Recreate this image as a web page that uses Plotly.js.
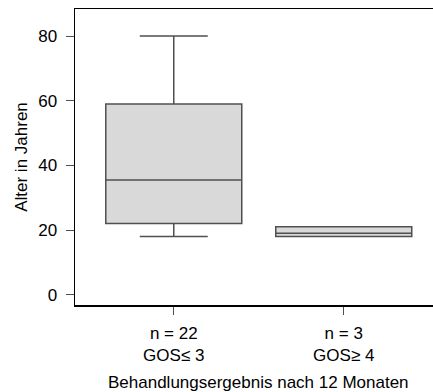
<!DOCTYPE html>
<html>
<head>
<meta charset="utf-8">
<script src="https://cdn.plot.ly/plotly-3.0.1.min.js"></script>
<style>html,body{margin:0;padding:0;background:#fff;}#chart{width:433px;height:392px;}</style>
</head>
<body>
<div id="chart"></div>
<script>
const positions = [1, 2];
const tickLabels = ["n = 22<br>GOS\u2264 3", "n = 3<br>GOS\u2265 4"];
const lowerWhisker = [18, 18];
const q1Values = [22, 18];
const medianValues = [35.5, 19];
const q3Values = [59, 21];
const upperWhisker = [80, 21];
const yTicks = [0, 20, 40, 60, 80];

const font = "Liberation Sans, Arial, Helvetica, sans-serif";

const trace = {
  type: "box",
  x: positions,
  q1: q1Values,
  median: medianValues,
  q3: q3Values,
  lowerfence: lowerWhisker,
  upperfence: upperWhisker,
  width: 0.8,
  whiskerwidth: 0.5,
  fillcolor: "#d9d9d9",
  line: {color: "#505050", width: 1.5},
  boxpoints: false,
  hoverinfo: "skip",
  showlegend: false
};

const layout = {
  width: 433,
  height: 392,
  margin: {l: 75, r: 0, t: 9, b: 87, pad: 0},
  paper_bgcolor: "#ffffff",
  plot_bgcolor: "#ffffff",
  font: {family: font, size: 17, color: "#000"},
  showlegend: false,
  xaxis: {
    range: [0.419, 2.525],
    tickmode: "array",
    tickvals: positions,
    ticktext: tickLabels,
    ticks: "outside",
    ticklen: 8,
    tickcolor: "#505050",
    tickwidth: 1,
    showline: true,
    mirror: true,
    linecolor: "#000",
    linewidth: 1.5,
    showgrid: false,
    zeroline: false,
    ticklabelstandoff: 4,
    tickfont: {family: font, size: 17, color: "#000"}
  },
  yaxis: {
    range: [-3.18, 88.35],
    tickmode: "array",
    tickvals: yTicks,
    ticktext: yTicks.map(String),
    ticks: "outside",
    ticklen: 8,
    tickcolor: "#505050",
    tickwidth: 1,
    showline: true,
    linecolor: "#000",
    linewidth: 1.5,
    showgrid: false,
    zeroline: false,
    ticklabelstandoff: 5,
    tickfont: {family: font, size: 17, color: "#000"},
    title: {text: "Alter in Jahren", font: {family: font, size: 17, color: "#000"}, standoff: 6}
  },
  annotations: [{
    text: "Behandlungsergebnis nach 12 Monaten",
    xref: "x", x: 1.5,
    yref: "paper", y: 0,
    xanchor: "center", yanchor: "top",
    yshift: -66,
    showarrow: false,
    font: {family: font, size: 17, color: "#000"}
  }]
};

Plotly.newPlot("chart", [trace], layout, {displayModeBar: false, staticPlot: true});
</script>
</body>
</html>
